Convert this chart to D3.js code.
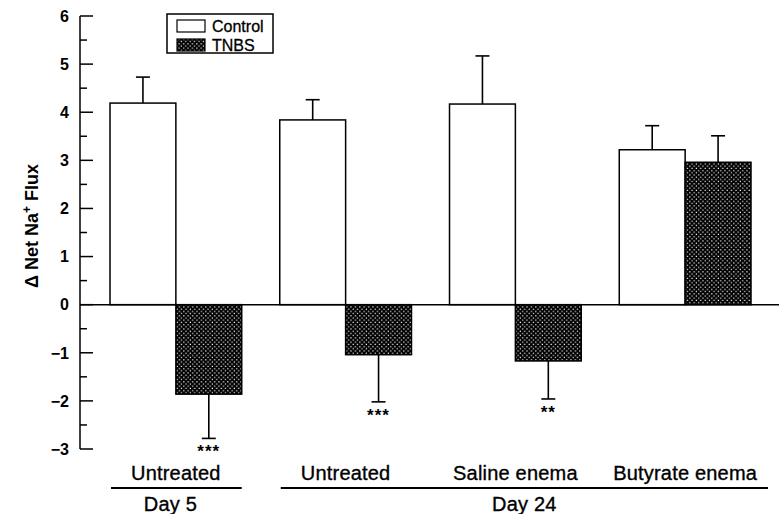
<!DOCTYPE html>
<html>
<head>
<meta charset="utf-8">
<script src="https://cdn.jsdelivr.net/npm/d3@7"></script>
<style>
  body { margin: 0; background: #fff; }
  svg { display: block; font-family: "Liberation Sans", Arial, sans-serif; }
  .tick-label { font-weight: bold; font-size: 16px; }
  .cat { font-size: 20px; letter-spacing: 0.2px; stroke: #000; stroke-width: 0.35px; }
</style>
</head>
<body>
<div id="chart"></div>
<script>
const groups = ["Untreated", "Untreated", "Saline enema", "Butyrate enema"];
const series = ["Control", "TNBS"];
const control = [4.19, 3.84, 4.17, 3.22];
const controlErr = [0.54, 0.42, 1.0, 0.5];
const tnbs = [-1.86, -1.04, -1.17, 2.96];
const tnbsErr = [0.92, 0.98, 0.79, 0.55];
const sig = ["***", "***", "**", ""];
const periods = ["Day 5", "Day 24"];
const periodSpan = [[0, 0], [1, 3]];
const yTicks = [-3, -2, -1, 0, 1, 2, 3, 4, 5, 6];

window.onload = () => {
  const width = 779, height = 514;
  const svg = d3.select("#chart").append("svg")
    .attr("width", width).attr("height", height);

  // crosshatch fill: black with little white dots on a diagonal grid
  const pat = svg.append("defs").append("pattern")
    .attr("id", "hatch").attr("patternUnits", "userSpaceOnUse")
    .attr("width", 4.4).attr("height", 4.4);
  pat.append("rect").attr("width", 4.4).attr("height", 4.4).attr("fill", "#000");
  pat.append("rect").attr("x", 0.6).attr("y", 0.6).attr("width", 1.2).attr("height", 1.2).attr("fill", "#fff");
  pat.append("rect").attr("x", 2.8).attr("y", 2.8).attr("width", 1.2).attr("height", 1.2).attr("fill", "#fff");

  const y = d3.scaleLinear().domain([-3, 6]).range([449, 16]);
  const x0 = d3.scaleBand().domain(d3.range(groups.length))
    .range([110, 751]).paddingInner(0.224).paddingOuter(0);
  const x1 = d3.scaleBand().domain(series).range([0, x0.bandwidth()]);

  const rows = groups.map((g, i) => [
    { s: "Control", g: i, v: control[i], e: controlErr[i] },
    { s: "TNBS", g: i, v: tnbs[i], e: tnbsErr[i] }
  ]).flat();

  // y axis
  const axisX = 80;
  const ax = svg.append("g").attr("transform", `translate(${axisX},0)`);
  ax.append("line").attr("y1", y(6)).attr("y2", y(-3))
    .attr("stroke", "#000").attr("stroke-width", 1.5);
  ax.selectAll("line.major").data(yTicks).enter().append("line")
    .attr("x1", 0).attr("x2", 13).attr("y1", d => y(d)).attr("y2", d => y(d))
    .attr("stroke", "#000").attr("stroke-width", 1.5);
  ax.selectAll("line.minor").data(yTicks.slice(0, -1).map(d => d + 0.5)).enter().append("line")
    .attr("x1", 0).attr("x2", 7).attr("y1", d => y(d)).attr("y2", d => y(d))
    .attr("stroke", "#000").attr("stroke-width", 1.5);
  ax.selectAll("text").data(yTicks).enter().append("text")
    .classed("tick-label", true)
    .attr("x", -11).attr("y", d => y(d)).attr("dy", "0.36em")
    .attr("text-anchor", "end")
    .text(d => d < 0 ? "\u2212" + Math.abs(d) : d);

  // y label
  const yl = svg.append("text")
    .attr("transform", "translate(38,226) rotate(-90)")
    .attr("text-anchor", "middle")
    .attr("font-weight", "bold").attr("font-size", 18);
  yl.append("tspan").text("\u0394 Net Na");
  yl.append("tspan").attr("dy", -7).attr("font-size", 12).text("+");
  yl.append("tspan").attr("dy", 7).text(" Flux");

  // bars
  const bars = svg.append("g");
  bars.selectAll("rect").data(rows).enter().append("rect")
    .attr("x", d => x0(d.g) + x1(d.s))
    .attr("width", x1.bandwidth())
    .attr("y", d => y(Math.max(0, d.v)))
    .attr("height", d => Math.abs(y(d.v) - y(0)))
    .attr("fill", d => d.s === "Control" ? "#fff" : "url(#hatch)")
    .attr("stroke", "#000").attr("stroke-width", 1.5);

  // error bars
  const cx = d => x0(d.g) + x1(d.s) + x1.bandwidth() / 2;
  const tip = d => d.v >= 0 ? d.v + d.e : d.v - d.e;
  const eb = svg.append("g").attr("stroke", "#000").attr("stroke-width", 1.6);
  eb.selectAll("line.v").data(rows).enter().append("line")
    .attr("x1", cx).attr("x2", cx)
    .attr("y1", d => y(d.v)).attr("y2", d => y(tip(d)));
  eb.selectAll("line.c").data(rows).enter().append("line")
    .attr("x1", d => cx(d) - 7).attr("x2", d => cx(d) + 7)
    .attr("y1", d => y(tip(d))).attr("y2", d => y(tip(d)));

  // zero line
  svg.append("line").attr("x1", axisX).attr("x2", width)
    .attr("y1", y(0)).attr("y2", y(0))
    .attr("stroke", "#000").attr("stroke-width", 1.5);

  // significance stars
  svg.selectAll("text.sig").data(rows.filter(d => d.s === "TNBS")).enter().append("text")
    .attr("x", cx).attr("y", d => y(tip(d)) + 19)
    .attr("text-anchor", "middle").attr("font-weight", "bold")
    .attr("font-size", 17).attr("letter-spacing", 1)
    .text(d => sig[d.g]);

  // category labels
  svg.selectAll("text.cat").data(groups).enter().append("text")
    .classed("cat", true)
    .attr("x", (d, i) => x0(i) + x0.bandwidth() / 2).attr("y", 480)
    .attr("text-anchor", "middle").text(d => d);

  // period brackets
  periods.forEach((p, i) => {
    const a = x0(periodSpan[i][0]) + 1;
    const b = x0(periodSpan[i][1]) + x0.bandwidth() + (i === 1 ? 17 : 0);
    svg.append("line").attr("x1", a).attr("x2", b).attr("y1", 488).attr("y2", 488)
      .attr("stroke", "#000").attr("stroke-width", 2);
    svg.append("text").classed("cat", true)
      .attr("x", (a + b) / 2 - (i === 0 ? 6 : 0)).attr("y", 511)
      .attr("text-anchor", "middle").text(p);
  });

  // legend
  const lg = svg.append("g").attr("transform", "translate(167,14)");
  lg.append("rect").attr("width", 106).attr("height", 39)
    .attr("fill", "#fff").attr("stroke", "#000").attr("stroke-width", 1.5);
  series.forEach((s, i) => {
    lg.append("rect").attr("x", 10).attr("y", 6 + i * 19).attr("width", 28).attr("height", 12)
      .attr("fill", i === 0 ? "#fff" : "url(#hatch)")
      .attr("stroke", "#000").attr("stroke-width", 1.2);
    lg.append("text").attr("x", 45).attr("y", 18 + i * 19)
      .attr("font-size", 16).attr("stroke", "#000").attr("stroke-width", 0.3)
      .text(s);
  });
};
</script>
</body>
</html>
